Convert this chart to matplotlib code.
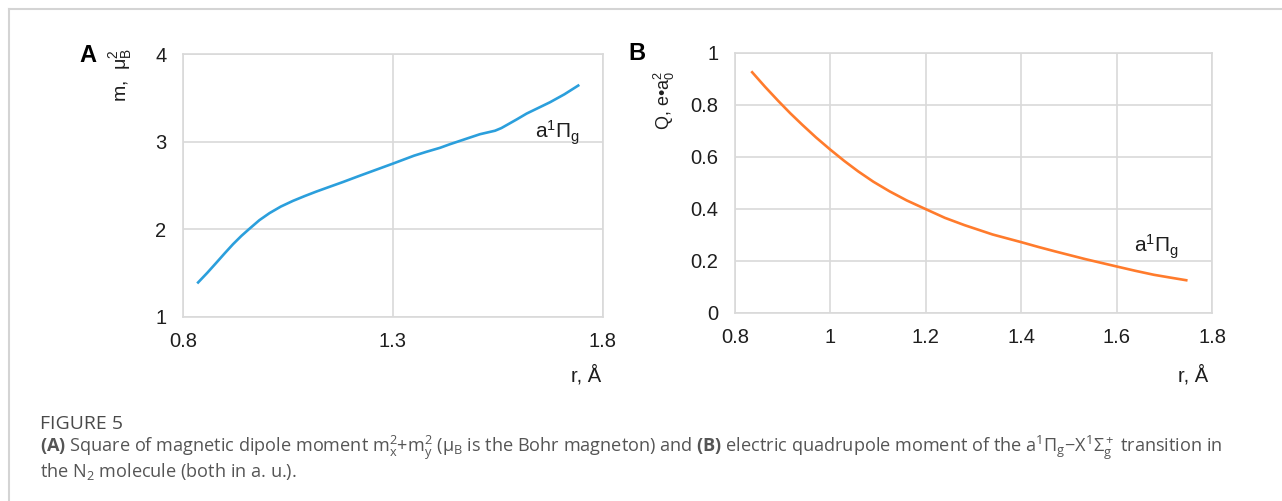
import matplotlib
matplotlib.use('Agg')
import matplotlib.pyplot as plt
from matplotlib.lines import Line2D

# dados
r_a = [0.836, 0.858, 0.879, 0.899, 0.919, 0.939, 0.959, 0.982, 1.006, 1.033,
       1.062, 1.09, 1.117, 1.15, 1.181, 1.22, 1.26, 1.30, 1.35, 1.38,
       1.412, 1.435, 1.46, 1.485, 1.507, 1.525, 1.543, 1.558, 1.571, 1.595,
       1.618, 1.646, 1.674, 1.708, 1.741]
m2_a = [1.394, 1.505, 1.617, 1.725, 1.83, 1.925, 2.01, 2.105, 2.185, 2.26,
        2.325, 2.38, 2.43, 2.487, 2.54, 2.61, 2.68, 2.75, 2.84, 2.885,
        2.93, 2.97, 3.01, 3.05, 3.085, 3.105, 3.125, 3.155, 3.19, 3.255,
        3.32, 3.385, 3.45, 3.54, 3.64]

r_b = [0.836, 0.863, 0.891, 0.916, 0.941, 0.97, 1.0, 1.029, 1.058, 1.09,
       1.124, 1.16, 1.198, 1.24, 1.281, 1.34, 1.401, 1.436, 1.471, 1.535,
       1.600, 1.64, 1.678, 1.71, 1.746]
q_b = [0.926, 0.870, 0.815, 0.768, 0.724, 0.675, 0.628, 0.585, 0.545, 0.505,
       0.468, 0.433, 0.401, 0.366, 0.338, 0.302, 0.272, 0.254, 0.237, 0.207,
       0.179, 0.162, 0.147, 0.137, 0.126]

xticks_a = [0.8, 1.3, 1.8]
xlabels_a = ['0.8', '1.3', '1.8']
yticks_a = [1, 2, 3, 4]
xticks_b = [0.8, 1.0, 1.2, 1.4, 1.6, 1.8]
xlabels_b = ['0.8', '1', '1.2', '1.4', '1.6', '1.8']
yticks_b = [0, 0.2, 0.4, 0.6, 0.8, 1.0]
ylabels_b = ['0', '0.2', '0.4', '0.6', '0.8', '1']

plt.rcParams['font.family'] = ['Liberation Sans', 'DejaVu Sans']
plt.rcParams['mathtext.fontset'] = 'custom'
plt.rcParams['mathtext.rm'] = 'Liberation Sans'
plt.rcParams['mathtext.it'] = 'Liberation Sans'
plt.rcParams['mathtext.sf'] = 'Open Sans'
plt.rcParams['mathtext.bf'] = 'Open Sans:bold'

W, H = 1282, 501
fig = plt.figure(figsize=(W / 100, H / 100), dpi=100)

grid_c = '#d9d9d9'
tick_c = '#1e1e1e'


def px_axes(l, t, r, b):
    return fig.add_axes([l / W, 1 - b / H, (r - l) / W, (b - t) / H])


def style(ax):
    for s in ax.spines.values():
        s.set_color(grid_c)
        s.set_linewidth(1.2)
    ax.grid(True, color=grid_c, lw=1.2)
    ax.set_axisbelow(True)
    ax.tick_params(length=0, labelsize=14.5, colors=tick_c)
    ax.tick_params(axis='x', pad=11)
    ax.tick_params(axis='y', pad=12)


# painel A
ax1 = px_axes(183, 54, 603, 317)
ax1.plot(r_a, m2_a, color='#2b9fdc', lw=1.9)
ax1.set_xlim(0.8, 1.8)
ax1.set_ylim(1, 4)
ax1.set_xticks(xticks_a, xlabels_a)
ax1.set_yticks(yticks_a)
style(ax1)
ax1.text(0.838, 0.68, r'$\mathrm{a^1Π_g}$', transform=ax1.transAxes,
         fontsize=15, va='baseline', ha='left', color=tick_c)

# painel B
ax2 = px_axes(735, 53, 1212, 313)
ax2.plot(r_b, q_b, color='#ff7b2c', lw=1.9)
ax2.set_xlim(0.8, 1.8)
ax2.set_ylim(0, 1)
ax2.set_xticks(xticks_b, xlabels_b)
ax2.set_yticks(yticks_b, ylabels_b)
style(ax2)
ax2.text(0.836, 0.231, r'$\mathrm{a^1Π_g}$', transform=ax2.transAxes,
         fontsize=15, va='baseline', ha='left', color=tick_c)

# rótulos dos eixos e letras dos painéis
fig.text(88 / W, 1 - 56 / H, 'A', fontsize=17, fontweight='bold', ha='center', va='center')
fig.text(637 / W, 1 - 53 / H, 'B', fontsize=17, fontweight='bold', ha='center', va='center')
fig.text(121 / W, 1 - 75 / H, r'm,  $\mathrm{μ_B^2}$', rotation=90, fontsize=14,
         ha='center', va='center', color=tick_c)
fig.text(664 / W, 1 - 100 / H, r'Q, e•$\mathrm{a_0^2}$', rotation=90, fontsize=13,
         ha='center', va='center', color=tick_c)
fig.text(601 / W, 1 - 375 / H, 'r, Å', fontsize=14.5, ha='right', va='center', color=tick_c)
fig.text(1208 / W, 1 - 375 / H, 'r, Å', fontsize=14.5, ha='right', va='center', color=tick_c)

# moldura
border = '#d4d4d4'
fig.add_artist(Line2D([9 / W, 1], [1 - 9 / H, 1 - 9 / H], color=border, lw=1.5,
                      transform=fig.transFigure))
fig.add_artist(Line2D([9 / W, 9 / W], [0, 1 - 9 / H], color=border, lw=1.5,
                      transform=fig.transFigure))

# legenda da figura
cap_c = '#555555'
fig.text(40 / W, 1 - 424 / H, 'FIGURE 5', family='Open Sans', fontsize=14,
         color='#4a4a4a', va='center', ha='left')
fig.text(40 / W, 1 - 448 / H,
         r'$\mathbf{(A)}$ Square of magnetic dipole moment $\mathsf{m_x^2}$+$\mathsf{m_y^2}$ '
         r'($\mathsf{μ_B}$ is the Bohr magneton) and $\mathbf{(B)}$ electric quadrupole moment '
         r'of the $\mathsf{a^1Π_g}$−$\mathsf{X^1Σ_g^+}$ transition in',
         family='Open Sans', fontsize=13.1, color=cap_c, va='center', ha='left')
fig.text(40 / W, 1 - 472 / H, r'the $\mathsf{N_2}$ molecule (both in a. u.).',
         family='Open Sans', fontsize=13.1, color=cap_c, va='center', ha='left')

fig.savefig('out.png', dpi=100, facecolor='white')
